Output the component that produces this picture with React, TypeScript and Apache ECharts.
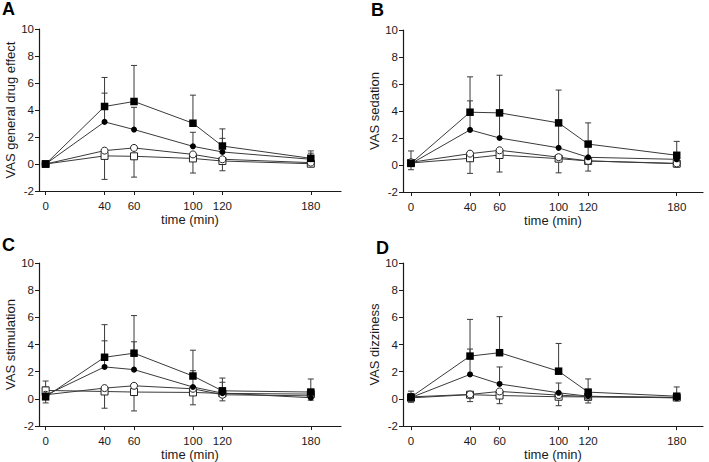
import React, { useEffect, useRef } from "react";
import * as echarts from "echarts";

const TIME = [0, 40, 60, 100, 120, 180];
const X_TICKS = [0, 40, 60, 100, 120, 180];

const PANEL_LETTERS = ["A", "B", "C", "D"];
const Y_NAMES = ["VAS general drug effect", "VAS sedation", "VAS stimulation", "VAS dizziness"];
const X_NAME = "time (min)";

// filled square
const A_FS = [0, 4.26, 4.63, 3.02, 1.33, 0.42];
const A_FS_SD = [0, 2.15, 2.67, 2.08, 1.27, 0.55];
// filled circle
const A_FC = [0, 3.12, 2.55, 1.31, 0.89, 0.35];
const A_FC_SD = [0, 2.13, 1.65, 1.04, 1.01, 0.45];
// open circle
const A_OC = [0, 0.99, 1.19, 0.71, 0.35, 0.1];
// open square
const A_OS = [0, 0.6, 0.57, 0.41, 0.22, 0.02];
const A_OS_SD = [0, 1.74, 1.54, 1.08, 0.72, 0.1];

const B_FS = [0.12, 3.91, 3.86, 3.12, 1.55, 0.72];
const B_FS_SD = [0.92, 2.62, 2.79, 2.43, 1.57, 1.03];
const B_FC = [0.1, 2.6, 2.0, 1.27, 0.57, 0.42];
const B_FC_SD = [0.3, 2.15, 1.9, 1.7, 0.9, 0.3];
const B_OC = [0.2, 0.84, 1.09, 0.58, 0.3, 0.12];
const B_OS = [0.15, 0.5, 0.74, 0.47, 0.3, 0.1];
const B_OS_SD = [0.5, 1.12, 1.26, 1.05, 0.75, 0.25];

const C_FS = [0.15, 3.06, 3.36, 1.68, 0.59, 0.5];
const C_FS_SD = [1.16, 2.4, 2.77, 1.9, 0.94, 0.96];
const C_FC = [0.27, 2.35, 2.15, 0.87, 0.42, 0.08];
const C_FC_SD = [0.6, 1.92, 2.05, 1.2, 0.8, 0.3];
const C_OC = [0.3, 0.79, 0.96, 0.74, 0.3, 0.22];
const C_OS = [0.62, 0.54, 0.5, 0.47, 0.4, 0.35];
const C_OS_SD = [0.92, 1.23, 1.39, 0.91, 0.55, 0.45];

const D_FS = [0.13, 3.15, 3.4, 2.04, 0.5, 0.2];
const D_FS_SD = [0.44, 2.7, 2.65, 2.04, 0.97, 0.68];
const D_FC = [0.1, 1.8, 1.1, 0.45, 0.2, 0.07];
const D_FC_SD = [0.3, 1.87, 1.25, 0.72, 0.4, 0.2];
const D_OC = [0.15, 0.33, 0.55, 0.28, 0.17, 0.12];
const D_OS = [0.08, 0.31, 0.25, 0.16, 0.15, 0.1];
const D_OS_SD = [0.33, 0.51, 0.6, 0.66, 0.45, 0.15];

const PANELS = [
  { fs: A_FS, fsSd: A_FS_SD, fc: A_FC, fcSd: A_FC_SD, oc: A_OC, os: A_OS, osSd: A_OS_SD },
  { fs: B_FS, fsSd: B_FS_SD, fc: B_FC, fcSd: B_FC_SD, oc: B_OC, os: B_OS, osSd: B_OS_SD },
  { fs: C_FS, fsSd: C_FS_SD, fc: C_FC, fcSd: C_FC_SD, oc: C_OC, os: C_OS, osSd: C_OS_SD },
  { fs: D_FS, fsSd: D_FS_SD, fc: D_FC, fcSd: D_FC_SD, oc: D_OC, os: D_OS, osSd: D_OS_SD },
];

const GRIDS = [
  { left: 39, top: 29, width: 302, height: 162, xmin: -4.5, xmax: 200.5 },
  { left: 403, top: 30, width: 300, height: 162, xmin: -5.4, xmax: 197.8 },
  { left: 39, top: 263, width: 302, height: 163, xmin: -4.5, xmax: 200.5 },
  { left: 403, top: 263, width: 300, height: 164, xmin: -5.4, xmax: 197.8 },
];

const LETTER_POS = [
  { x: 2, y: 0 },
  { x: 371, y: 1 },
  { x: 2, y: 236 },
  { x: 376, y: 239 },
];

const FONT = "'Liberation Sans', Arial, sans-serif";
const INK = "#1a1a1a";
const LINE = "#3a3a3a";

function errorSeries(idx: number, means: number[], sds: number[], dir: number) {
  const data = TIME.map((t, i) => [t, means[i], means[i] + dir * sds[i]]);
  return {
    type: "custom",
    xAxisIndex: idx,
    yAxisIndex: idx,
    z: 1,
    silent: true,
    data,
    renderItem: (params: any, api: any) => {
      const x = api.value(0);
      const m = api.value(1);
      const e = api.value(2);
      const p0 = api.coord([x, m]);
      const p1 = api.coord([x, e]);
      const half = 3;
      return {
        type: "group",
        children: [
          {
            type: "line",
            shape: { x1: p0[0], y1: p0[1], x2: p1[0], y2: p1[1] },
            style: { stroke: LINE, lineWidth: 1 },
          },
          {
            type: "line",
            shape: { x1: p1[0] - half, y1: p1[1], x2: p1[0] + half, y2: p1[1] },
            style: { stroke: LINE, lineWidth: 1 },
          },
        ],
      };
    },
  };
}

function lineSeries(idx: number, values: number[], symbol: string, size: number, filled: boolean, z: number) {
  return {
    type: "line",
    xAxisIndex: idx,
    yAxisIndex: idx,
    z,
    data: TIME.map((t, i) => [t, values[i]]),
    symbol,
    symbolSize: size,
    showAllSymbol: true,
    lineStyle: { color: LINE, width: 1 },
    itemStyle: filled
      ? { color: "#000", borderColor: "#000", borderWidth: 0 }
      : { color: "#fff", borderColor: "#222", borderWidth: 1 },
    emphasis: { disabled: true },
  };
}

export default function App() {
  const ref = useRef<HTMLDivElement>(null);
  useEffect(() => {
    if (!ref.current) return;
    const chart = echarts.init(ref.current, null, { renderer: "svg" });
    const series: any[] = [];
    PANELS.forEach((p, i) => {
      series.push(errorSeries(i, p.os, p.osSd, -1));
      series.push(errorSeries(i, p.fc, p.fcSd, 1));
      series.push(errorSeries(i, p.fs, p.fsSd, 1));
      series.push(lineSeries(i, p.os, "rect", 7, false, 2));
      series.push(lineSeries(i, p.oc, "circle", 7, false, 3));
      series.push(lineSeries(i, p.fc, "circle", 6, true, 4));
      series.push(lineSeries(i, p.fs, "rect", 7.5, true, 5));
    });
    chart.setOption({
      animation: false,
      backgroundColor: "#fff",
      textStyle: { fontFamily: FONT },
      grid: GRIDS.map((g) => ({ left: g.left, top: g.top, width: g.width, height: g.height })),
      xAxis: GRIDS.map((g, i) => ({
        type: "value",
        gridIndex: i,
        min: g.xmin,
        max: g.xmax,
        name: X_NAME,
        nameLocation: "middle",
        nameGap: 20,
        nameTextStyle: { fontSize: 13, color: INK, fontFamily: FONT },
        splitLine: { show: false },
        axisLine: { onZero: false, lineStyle: { color: INK, width: 1.2 } },
        axisTick: { show: true, length: 4, inside: false, customValues: X_TICKS, lineStyle: { color: INK, width: 1 } },
        axisLabel: { customValues: X_TICKS, fontSize: 11.5, color: INK, margin: 9, fontFamily: FONT },
      })),
      yAxis: GRIDS.map((g, i) => ({
        type: "value",
        gridIndex: i,
        min: -2,
        max: 10,
        interval: 2,
        name: Y_NAMES[i],
        nameLocation: "middle",
        nameGap: 21,
        nameTextStyle: { fontSize: 13, color: INK, fontFamily: FONT },
        splitLine: { show: false },
        axisLine: { show: true, onZero: false, lineStyle: { color: INK, width: 1.2 } },
        axisTick: { show: true, length: 4, lineStyle: { color: INK, width: 1 } },
        axisLabel: { fontSize: 11.5, color: INK, margin: 5, fontFamily: FONT },
      })),
      graphic: PANEL_LETTERS.map((l, i) => ({
        type: "text",
        left: LETTER_POS[i].x,
        top: LETTER_POS[i].y,
        style: { text: l, fontSize: 18, fontWeight: "bold", fill: "#000", fontFamily: FONT },
      })),
      series,
    });
    return () => chart.dispose();
  }, []);
  return (
    <div
      ref={ref}
      style={{ position: "fixed", left: 0, top: 0, width: 709, height: 462, background: "#fff" }}
    />
  );
}
